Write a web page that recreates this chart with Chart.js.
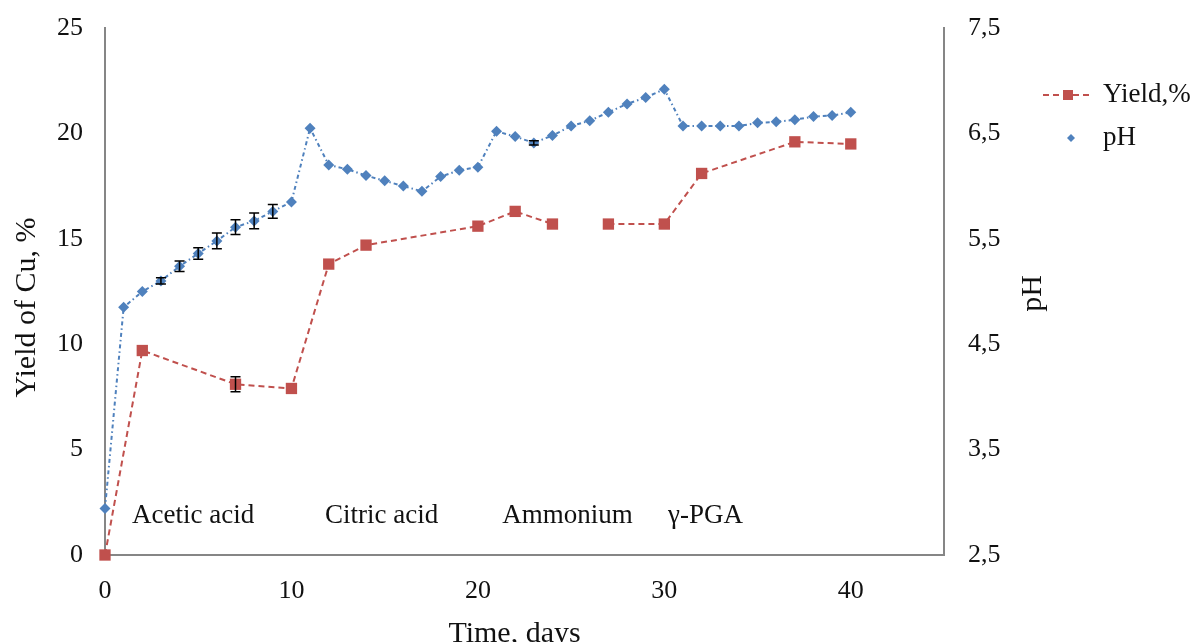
<!DOCTYPE html>
<html><head><meta charset="utf-8">
<script src="https://cdn.jsdelivr.net/npm/chart.js@4.4.1/dist/chart.umd.min.js"></script>
<style>html,body{margin:0;padding:0;background:#fff;}#wrap{width:1198px;height:642px;}</style>
</head><body><div id="wrap"><canvas id="c" width="1198" height="642"></canvas></div>
<script>
// ---- data ----
const phDays = [0,1,2,3,4,5,6,7,8,9,10,11,12,13,14,15,16,17,18,19,20,21,22,23,24,25,26,27,28,29,30,31,32,33,34,35,36,37,38,39,40];
const phValues = [2.94,4.85,5.0,5.1,5.24,5.36,5.48,5.61,5.67,5.76,5.85,6.55,6.2,6.16,6.1,6.05,6.0,5.95,6.09,6.15,6.18,6.52,6.47,6.41,6.48,6.57,6.62,6.7,6.78,6.84,6.92,6.57,6.57,6.57,6.57,6.6,6.61,6.63,6.66,6.67,6.7];
const phErrors = [0,0,0,0.03,0.05,0.055,0.075,0.07,0.075,0.065,0,0,0,0,0,0,0,0,0,0,0,0,0,0.02,0,0,0,0,0,0,0,0,0,0,0,0,0,0,0,0,0];
const yieldDays = [0,2,7,10,12,14,20,22,24,25,27,30,32,37,40];
const yieldValues = [0,9.7,8.1,7.9,13.8,14.7,15.6,16.3,15.7,null,15.7,15.7,18.1,19.6,19.5];
const yieldErrors = [0,0,0.35,0,0,0,0,0,0,0,0,0,0,0,0];
const xTickValues = [0,10,20,30,40];
const yieldTickValues = [0,5,10,15,20,25];
const phTickValues = [2.5,3.5,4.5,5.5,6.5,7.5];
const phaseNames = ['Acetic acid','Citric acid','Ammonium','\u03B3-PGA'];
const phaseStartDays = [1.45,11.8,21.3,30.2];
const phaseLabelLevel = 1.85;
const seriesNames = ['Yield,%','pH'];
const axisTitles = {x:'Time, days', y:'Yield of Cu, %', y1:'pH'};

// ---- style ----
const RED = '#C0504D', BLUE = '#4F81BD', AXIS = '#868686', TXT = '#111';
const FONT = "'Liberation Serif','Times New Roman',serif";

const yieldData = yieldDays.map((d,i)=>({x:d,y:yieldValues[i]}));
const phData = phDays.map((d,i)=>({x:d,y:phValues[i]}));

const extras = {
  id:'extras',
  afterDatasetsDraw(chart){
    const ctx = chart.ctx, xs = chart.scales.x;
    const drawErr = (days, vals, errs, sc) => {
      ctx.save(); ctx.strokeStyle = '#000'; ctx.lineWidth = 1.5; ctx.setLineDash([]);
      days.forEach((d,i)=>{
        const e = errs[i]; if (!e || vals[i]==null) return;
        const px = xs.getPixelForValue(d);
        const yt = sc.getPixelForValue(vals[i]+e), yb = sc.getPixelForValue(vals[i]-e);
        ctx.beginPath();
        ctx.moveTo(px,yt); ctx.lineTo(px,yb);
        ctx.moveTo(px-5,yt); ctx.lineTo(px+5,yt);
        ctx.moveTo(px-5,yb); ctx.lineTo(px+5,yb);
        ctx.stroke();
      });
      ctx.restore();
    };
    drawErr(phDays, phValues, phErrors, chart.scales.y1);
    drawErr(yieldDays, yieldValues, yieldErrors, chart.scales.y);
  },
  afterDraw(chart){
    const ctx = chart.ctx, xs = chart.scales.x, ys = chart.scales.y, a = chart.chartArea;
    const midY = (a.top + a.bottom)/2, midX = (a.left + a.right)/2;
    ctx.save();
    // phase labels
    ctx.fillStyle = TXT; ctx.font = '27px ' + FONT; ctx.textBaseline = 'middle'; ctx.textAlign = 'left';
    phaseNames.forEach((t,i)=>{
      ctx.fillText(t, xs.getPixelForValue(phaseStartDays[i]), ys.getPixelForValue(phaseLabelLevel));
    });
    // axis titles
    ctx.font = '30px ' + FONT; ctx.textAlign = 'center'; ctx.textBaseline = 'middle';
    ctx.fillText(axisTitles.x, midX - 10, a.bottom + 79);
    ctx.save();
    ctx.translate(a.left - 78, midY + 16); ctx.rotate(-Math.PI/2);
    ctx.fillText(axisTitles.y, 0, 0);
    ctx.restore();
    ctx.save();
    ctx.translate(a.right + 89, midY + 2); ctx.rotate(-Math.PI/2);
    ctx.fillText(axisTitles.y1, 0, 0);
    ctx.restore();
    // legend
    const lx = a.right + 99, ly1 = 95, ly2 = 138;
    ctx.strokeStyle = RED; ctx.lineWidth = 2; ctx.setLineDash([6,4]);
    ctx.beginPath(); ctx.moveTo(lx, ly1); ctx.lineTo(lx+50, ly1); ctx.stroke();
    ctx.setLineDash([]);
    ctx.fillStyle = RED; ctx.fillRect(lx+20, ly1-5, 10, 10);
    ctx.fillStyle = BLUE;
    ctx.beginPath(); ctx.moveTo(lx+28-4, ly2); ctx.lineTo(lx+28, ly2-4); ctx.lineTo(lx+28+4, ly2); ctx.lineTo(lx+28, ly2+4); ctx.closePath(); ctx.fill();
    ctx.fillStyle = TXT; ctx.font = '27px ' + FONT; ctx.textAlign = 'left'; ctx.textBaseline = 'middle';
    ctx.fillText(seriesNames[0], lx+60, ly1);
    ctx.fillText(seriesNames[1], lx+60, ly2);
    ctx.restore();
  }
};

const fixTicks = vals => s => { s.ticks = vals.map(v=>({value:v})); };
const fitV = w => s => { s.width = w; s.paddingTop = 0; s.paddingBottom = 0; };
const tickFont = {family:FONT, size:26};

new Chart(document.getElementById('c'), {
  type:'line',
  data:{ datasets:[
    { label:seriesNames[0], data:yieldData, yAxisID:'y', borderColor:RED, backgroundColor:RED,
      borderWidth:2, borderDash:[6,4], pointStyle:'rect', pointRadius:8, pointBorderWidth:0,
      pointBackgroundColor:RED, spanGaps:false, tension:0, clip:false },
    { label:seriesNames[1], data:phData, yAxisID:'y1', borderColor:BLUE, backgroundColor:BLUE,
      borderWidth:2, borderDash:[4,3,1.5,3], pointStyle:'rectRot', pointRadius:5.5, pointBorderWidth:0,
      pointBackgroundColor:BLUE, tension:0, clip:false }
  ]},
  options:{
    responsive:false, animation:false, devicePixelRatio:1,
    layout:{padding:{top:28,left:0,right:0,bottom:0}},
    plugins:{ legend:{display:false}, tooltip:{enabled:false} },
    scales:{
      x:{ type:'linear', position:'bottom', min:0, max:45,
        afterBuildTicks: fixTicks(xTickValues),
        afterFit: s => { s.height = 87; s.paddingLeft = 0; s.paddingRight = 0; },
        grid:{display:false, drawTicks:false},
        border:{display:true, color:AXIS, width:2},
        ticks:{padding:21, color:TXT, font:tickFont, callback:v=>String(v)},
        title:{display:false, text:axisTitles.x}
      },
      y:{ type:'linear', position:'left', min:0, max:25,
        afterBuildTicks: fixTicks(yieldTickValues),
        afterFit: fitV(105),
        grid:{display:false, drawTicks:false},
        border:{display:true, color:AXIS, width:2},
        ticks:{padding:22, color:TXT, font:tickFont, callback:v=>String(v)},
        title:{display:false, text:axisTitles.y}
      },
      y1:{ type:'linear', position:'right', min:2.5, max:7.5,
        afterBuildTicks: fixTicks(phTickValues),
        afterFit: fitV(254),
        grid:{display:false, drawTicks:false},
        border:{display:true, color:AXIS, width:2},
        ticks:{padding:24, color:TXT, font:tickFont, callback:v=>v.toFixed(1).replace('.',',')},
        title:{display:false, text:axisTitles.y1}
      }
    }
  },
  plugins:[extras]
});
</script></body></html>
